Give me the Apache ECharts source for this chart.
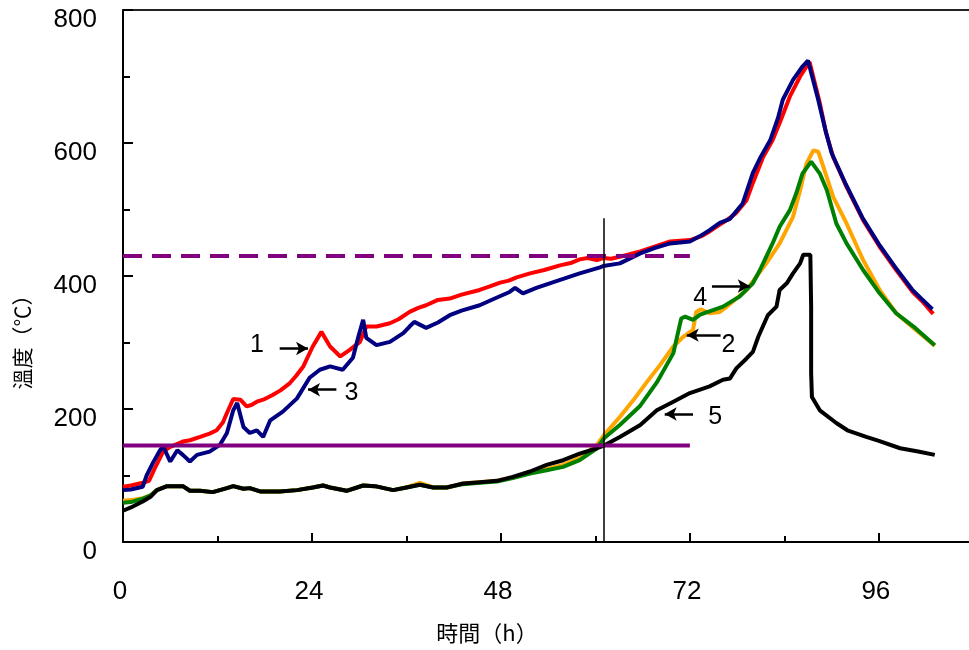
<!DOCTYPE html>
<html>
<head>
<meta charset="utf-8">
<script src="https://cdn.jsdelivr.net/npm/echarts@6/dist/echarts.min.js"></script>
<style>
html,body{margin:0;padding:0;background:#fff;}
#chart{width:969px;height:650px;}
</style>
</head>
<body>
<div id="chart"></div>
<script>
// ---- data (hours, °C) ----
const xTicks = [0, 24, 48, 72, 96];
const xMinorTicks = [12, 36, 60, 84];
const yTicks = [0, 200, 400, 600, 800];

const curve1 = [[0,83],[1,85],[2.5,89],[3.3,92],[4,110],[5.1,136],[6,143],[7.6,151],[8.5,153],[9.8,158],[11,163],[11.9,168],[12.7,180],[13.2,194],[14,215],[14.9,214],[15.7,204],[16.3,206],[17,211],[18,215],[19,221],[20,228],[21.2,239],[22,250],[22.9,264],[24.1,294],[25.2,316],[26.3,294],[27.6,279],[28.8,289],[30.1,301],[30.9,324],[32.2,324],[33.9,329],[35,335],[36.4,346],[37.5,352],[38.5,356],[40,364],[41.5,366],[43,372],[45.3,379],[46.5,384],[47.9,390],[49,393],[50,398],[51.7,404],[53.5,409],[55.5,416],[57,420],[58,425],[59,427],[60.2,424],[61,427],[62,426],[63.5,430],[65.7,437],[67.5,444],[69.5,452],[72,454],[73.5,460],[74.5,467],[75.5,475],[76.7,484],[77.9,495],[79.2,514],[80,540],[81.3,579],[82.5,604],[83.4,630],[84.7,670],[86,700],[87.2,722],[88.5,660],[89.3,615],[90.2,579],[91.9,534],[94,484],[96.1,444],[98.2,409],[100.3,376],[101.5,362],[102.9,343]];

const curve3 = [[0,78],[1,79],[2.5,83],[3,100],[3.8,119],[4.7,138],[5.1,144],[6,121],[6.9,138],[7.6,131],[8.5,121],[9.4,131],[11,136],[12.3,146],[13.2,164],[14,198],[14.5,209],[15.3,173],[16.1,164],[17,168],[17.8,158],[18.7,183],[20.3,196],[22.1,216],[23.7,247],[25,259],[26.3,264],[27.9,259],[29.2,277],[29.9,309],[30.5,334],[30.9,307],[32.2,296],[33.9,301],[35.6,314],[36.4,324],[37,331],[38.5,322],[40,330],[41.5,341],[43,348],[45.3,356],[47,365],[49.1,376],[49.8,382],[50.8,374],[52.5,382],[54.2,389],[56,396],[58,404],[60.6,413],[61,415],[63.1,419],[65.7,434],[67.5,442],[69.5,449],[72,452],[73.3,460],[74.5,469],[75.8,480],[77.1,486],[78.7,509],[80,555],[80.9,577],[82.2,604],[83.2,638],[83.8,665],[85.1,695],[86.3,715],[87,724],[88.3,665],[89.2,620],[90,585],[91.8,538],[93.9,488],[96,448],[98.1,413],[100.2,380],[101.4,366],[102.8,350]];

const curve2 = [[0,62],[1,63],[2.5,66],[3.5,70],[4.3,78],[5.6,84],[7.6,84],[8.5,77],[9.8,77],[11.4,75],[13.2,81],[14,84],[15.3,80],[16.1,81],[17.4,76],[19.9,76],[22.1,78],[24.1,82],[25.4,85],[26.3,82],[28.4,77],[30.5,85],[32,84],[34.3,78],[36,82],[37.7,89],[39.4,82],[41.1,82],[43.2,88],[45.3,90],[47.5,92],[49.5,97],[51.7,104],[53.8,110],[55.9,116],[58,126],[60.2,146],[61.1,161],[63.1,188],[64.8,213],[66.5,240],[68.2,266],[69.9,294],[71.2,309],[72.4,319],[72.8,346],[73.4,350],[74.5,344],[75.8,346],[76.7,354],[79.2,379],[81.7,419],[83.4,449],[85.1,489],[86,529],[86.8,569],[87.7,589],[88.3,587],[89.1,559],[90.2,519],[91.9,479],[94,424],[96.1,379],[98.2,344],[100.4,322],[103.1,295]];

const curve4 = [[0,59],[1,60],[2.5,65],[3.5,70],[4.3,78],[5.6,84],[7.6,84],[8.5,77],[9.8,77],[11.4,75],[13.2,81],[14,84],[15.3,80],[16.1,81],[17.4,76],[19.9,76],[22.1,78],[24.1,82],[25.4,85],[26.3,82],[28.4,77],[30.5,85],[32,84],[34.3,78],[36,82],[37.7,86],[39.4,82],[41.1,82],[43.2,87],[45.3,89],[47.5,91],[49.5,96],[51.7,103],[53.8,108],[55.9,113],[58,123],[60.2,141],[61.1,156],[63.1,176],[65.7,205],[67.8,240],[69.9,284],[70.9,336],[71.4,339],[72.4,334],[73.3,342],[76.2,354],[78.3,369],[80,389],[80.9,409],[81.3,419],[82.5,449],[83.4,474],[84.7,499],[85.5,524],[86.3,554],[87.4,572],[88.5,554],[89.4,529],[90.6,479],[91.9,449],[94,409],[96.1,374],[98.2,344],[100.4,324],[103.1,296]];

const curve5 = [[0,47],[1,52],[2.5,61],[3.5,68],[4.3,78],[5.6,84],[7.6,84],[8.5,77],[9.8,77],[11.4,75],[13.2,81],[14,84],[15.3,80],[16.1,81],[17.4,76],[19.9,76],[22.1,78],[24.1,82],[25.4,85],[26.3,82],[28.4,77],[30.5,85],[32,84],[34.3,78],[36,82],[37.7,86],[39.4,82],[41.1,82],[43.2,88],[45.3,90],[47.5,92],[49.5,98],[51.7,106],[53.8,116],[55.9,123],[58,133],[60.2,141],[61.1,145],[63.1,158],[65.7,176],[67.8,198],[69.9,211],[72,224],[74.5,234],[76.2,244],[77.1,246],[77.9,261],[79.2,276],[80,286],[80.7,309],[81.9,341],[83,354],[83.4,379],[84.3,389],[85.1,404],[86,419],[86.4,432],[87.3,432],[87.4,354],[87.4,254],[87.5,218],[88.5,198],[90.6,179],[92,168],[94.4,158],[96,152],[98.7,141],[101,136],[103.1,131]];

const limitHigh = [[0,430],[72,430]];   // dashed purple
const limitLow  = [[0,145],[72,145]];   // solid purple
const markerTime = 61;                  // vertical line
const markerTop = 487;

// annotation labels: [label, labelX, labelY, arrowTailX, arrowHeadX, arrowY]
const notes = [
  ['1', 17.0, 296, 19.9, 23.5, 291],
  ['3', 29.0, 224, 27.1, 23.5, 229],
  ['4', 73.3, 367, 74.8, 79.6, 385],
  ['2', 76.9, 296, 75.9, 71.6, 311],
  ['5', 75.2, 188, 72.4, 68.8, 192.5]
];

const X_MAX = 107.45;
const FONT = '"Liberation Sans", Arial, sans-serif';
const CJK = '"Noto Sans CJK TC", "Noto Sans CJK SC", sans-serif';

function lineSeries(name, data, color, extra) {
  return Object.assign({
    name, type: 'line', data, showSymbol: false, symbol: 'none',
    smooth: false, animation: false, silent: true,
    lineStyle: { color, width: 4 }, itemStyle: { color }
  }, extra || {});
}

const chart = echarts.init(document.getElementById('chart'), null, { renderer: 'canvas' });

const option = {
  animation: false,
  backgroundColor: '#fff',
  grid: { left: 123, top: 10, right: 0, bottom: 108, show: false },
  xAxis: [
    {
      type: 'value', min: 0, max: X_MAX, position: 'bottom',
      axisLine: { show: true, onZero: false, lineStyle: { color: '#000', width: 2 } },
      axisTick: { show: true, inside: true, length: 9, customValues: xTicks, lineStyle: { color: '#000', width: 2 } },
      splitLine: { show: false },
      axisLabel: { fontFamily: FONT, fontSize: 26, color: '#000', margin: 37, padding: [0, 6, 0, 0], customValues: xTicks }
    },
    {
      type: 'value', min: 0, max: X_MAX, position: 'bottom',
      axisLine: { show: false, onZero: false },
      axisTick: { show: true, inside: true, length: 6, customValues: xMinorTicks, lineStyle: { color: '#000', width: 2 } },
      splitLine: { show: false },
      axisLabel: { show: false }
    },
    {
      type: 'value', min: 0, max: X_MAX, position: 'top',
      axisLine: { show: true, onZero: false, lineStyle: { color: '#222', width: 2 } },
      axisTick: { show: false }, splitLine: { show: false }, axisLabel: { show: false }
    }
  ],
  yAxis: {
    type: 'value', min: 0, max: 800, interval: 200,
    axisLine: { show: true, onZero: false, lineStyle: { color: '#000', width: 2 } },
    axisTick: { show: true, inside: true, length: 10, lineStyle: { color: '#000', width: 2 } },
    minorTick: { show: true, splitNumber: 2, length: 7, lineStyle: { color: '#000', width: 2 } },
    splitLine: { show: false },
    axisLabel: { fontFamily: FONT, fontSize: 26, color: '#000', margin: 26, verticalAlign: 'top', lineHeight: 20,
      formatter: v => yTicks.indexOf(v) >= 0 ? String(v) : '' }
  },
  graphic: [
    { type: 'text', x: 22, y: 337, rotation: Math.PI / 2,
      style: { text: '溫度（℃）', font: '21px ' + CJK, fill: '#000', align: 'center', verticalAlign: 'middle' } },
    { type: 'text', x: 487, y: 633,
      style: { text: '時間（h）', font: '22px ' + CJK, fill: '#000', align: 'center', verticalAlign: 'middle' } }
  ],
  series: [
    lineSeries('1', curve1, '#FF0000'),
    lineSeries('3', curve3, '#000080'),
    lineSeries('2', curve2, '#FFA500'),
    lineSeries('4', curve4, '#008000'),
    lineSeries('5', curve5, '#000000'),
    lineSeries('limitHigh', limitHigh, '#800080', { lineStyle: { color: '#800080', width: 4, type: [19, 10] } }),
    lineSeries('limitLow', limitLow, '#800080', {
      markLine: {
        silent: true, animation: false, symbol: ['none', 'none'],
        label: { show: false },
        lineStyle: { color: '#000', width: 1.5, type: 'solid' },
        data: [[{ coord: [markerTime, 0] }, { coord: [markerTime, markerTop] }]]
      }
    }),
    {
      type: 'line', data: [], silent: true, animation: false,
      markLine: {
        silent: true, animation: false, symbol: ['none', 'arrow'], symbolSize: [10, 12],
        label: { show: false },
        lineStyle: { color: '#000', width: 2.5, type: 'solid' },
        data: notes.map(n => [{ coord: [n[3], n[5]] }, { coord: [n[4], n[5]] }])
      },
      markPoint: {
        silent: true, animation: false, symbol: 'rect', symbolSize: 1,
        itemStyle: { color: 'rgba(0,0,0,0)' },
        label: { show: true, position: 'inside', fontFamily: FONT, fontSize: 25, color: '#000', formatter: p => p.name },
        data: notes.map(n => ({ name: n[0], coord: [n[1], n[2]] }))
      }
    }
  ]
};
chart.setOption(option);
</script>
</body>
</html>
